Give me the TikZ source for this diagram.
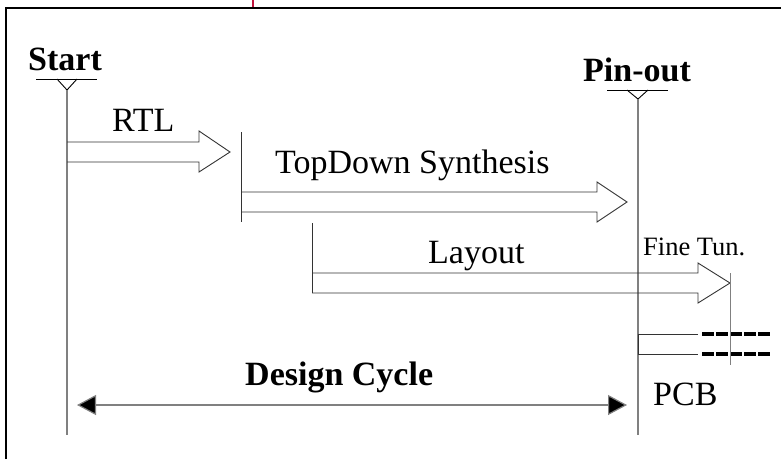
\documentclass[tikz,border=0pt]{standalone}
\usepackage{fontspec}
\setmainfont{Liberation Serif}
\usetikzlibrary{arrows.meta}
\definecolor{frameRed}{HTML}{C0143C}
\definecolor{lineGray}{HTML}{808080}
\begin{document}
\begin{tikzpicture}[x=1pt,y=-1pt,
  lbl/.style={anchor=base west,inner sep=0pt,font=\fontsize{34}{40}\selectfont},
  blbl/.style={lbl,font=\fontsize{34}{40}\selectfont\bfseries},
  slbl/.style={anchor=base west,inner sep=0pt,font=\fontsize{26.5}{30}\selectfont},
  tline/.style={draw=lineGray,line width=1.3pt},
  blockarrow/.style={draw=black!80,line width=0.9pt,line join=miter},
  milestone/.style={draw=black,line width=0.9pt},
  dashline/.style={draw=black,line width=4pt,dash pattern=on 11.5pt off 2.6pt}]
\useasboundingbox (0,0) rectangle (781,459);
% frame
\draw[black,line width=1.5pt] (6,459) -- (6,8) -- (781,8);
\draw[frameRed,line width=1.3pt] (253,0) -- (253,7.3);

% labels
\node[blbl] (start) at (28,70) {Start};
\node[blbl] (pinout) at (583,81) {Pin-out};
\node[lbl] (rtl) at (112,131) {RTL};
\node[lbl] (tds) at (275,173) {TopDown Synthesis};
\node[lbl] (layout) at (428,263) {Layout};
\node[slbl] (fine) at (643,255) {Fine Tun.};
\node[lbl] (pcb) at (653,405) {PCB};
\node[blbl] (dc) at (245,385) {Design Cycle};

% milestones
\coordinate (startTip) at (67,90);
\coordinate (startEnd) at (67,435);
\draw[milestone] (36,79) -- (97,79);
\draw[milestone] (57,79) -- (startTip) -- (77,79);
\draw[tline] (startTip) -- (startEnd);

\coordinate (pinTip) at (638,99);
\coordinate (pinEnd) at (638,435);
\draw[milestone] (607,90) -- (668,90);
\draw[milestone] (627,90) -- (pinTip) -- (648,90);
\draw[tline] (pinTip) -- (pinEnd);

% RTL block arrow
\draw[blockarrow] (67,142) -- (199,142) -- (199,131) -- (230,152) -- (199,172) -- (199,162) -- (67,162);

% TopDown
\draw[draw=black!80,line width=1pt] (241,132) -- (241,222);
\draw[blockarrow] (241,192) -- (597,192) -- (597,182) -- (627,202) -- (597,222) -- (597,212) -- (241,212);

% Layout
\draw[draw=black!80,line width=1pt] (312,223) -- (312,293);
\draw[blockarrow] (312,273) -- (698,273) -- (698,263) -- (730,283) -- (698,303) -- (698,293) -- (312,293);

% PCB
\draw[draw=black!80,line width=0.9pt] (698,334) -- (638,334) -- (638,354) -- (698,354);
\draw[dashline] (702,334) -- (770,334);
\draw[dashline] (702,354) -- (770,354);

% Fine tuning line
\draw[tline,line width=1pt] (730,273) -- (730,365);

% design cycle arrow
\coordinate (dcL) at (77,405);
\coordinate (dcR) at (627,405);
\draw[draw=lineGray,line width=1.2pt,{Triangle[length=19pt,width=20pt,fill=black]}-{Triangle[length=19pt,width=20pt,fill=black]}] (dcL) -- (dcR);
\end{tikzpicture}
\end{document}
